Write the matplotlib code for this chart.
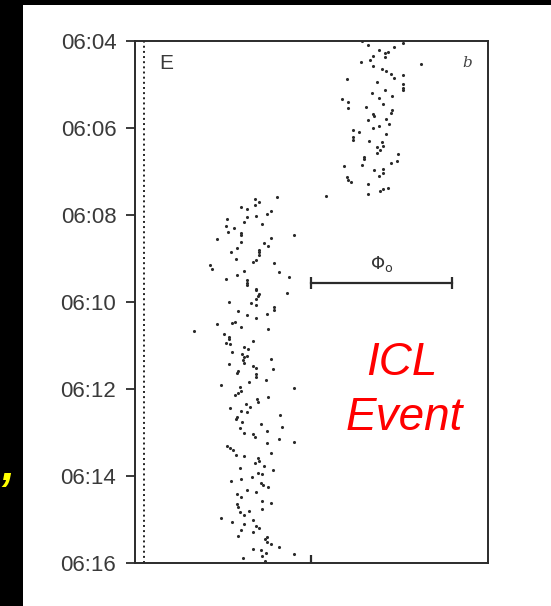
import matplotlib.pyplot as plt
from matplotlib.patches import Rectangle

# time axis: minutes after 06:00 (grows downward), x in arbitrary phase units
y_ticks = [4, 6, 8, 10, 12, 14, 16]
y_labels = ['06:04', '06:06', '06:08', '06:10', '06:12', '06:14', '06:16']

# pulses before the event (upper band)
upper_x = [227, 233, 244, 250, 253, 259, 268, 238, 250, 235,
           226, 286, 238, 247, 251, 256, 259, 268, 212, 242,
           268, 268, 268, 250, 237, 244, 257, 207, 213, 248,
           231, 213, 257, 238, 239, 256, 251, 233,
           254, 238, 244, 218, 224, 218, 218, 251, 234, 247,
           248, 242, 245, 242, 263, 229, 229, 262, 256, 209,
           227, 239, 248, 248, 244, 212, 213, 216, 233, 253,
           248, 245, 233, 191]
upper_y = [4.00, 4.09, 4.21, 4.28, 4.25, 4.14, 4.04, 4.34, 4.36, 4.44,
           4.48, 4.54, 4.58, 4.64, 4.68, 4.75, 4.85, 4.79, 4.88, 4.94,
           4.98, 5.07, 5.13, 5.13, 5.20, 5.30, 5.26, 5.33, 5.40, 5.44,
           5.51, 5.54, 5.59, 5.67, 5.72, 5.66, 5.79, 5.82,
           5.91, 5.99, 5.95, 6.05, 6.09, 6.20, 6.28, 6.14, 6.29, 6.33,
           6.41, 6.44, 6.50, 6.57, 6.60, 6.67, 6.72, 6.75, 6.80, 6.87,
           6.85, 6.97, 6.94, 7.04, 7.10, 7.12, 7.20, 7.23, 7.29, 7.37,
           7.40, 7.44, 7.52, 7.56]

# pulses after the event (lower band)
lower_x = [142, 120, 124, 120, 106, 112, 136, 132, 121, 112,
           92, 109, 127, 91, 99, 93, 106, 106, 159, 136,
           82, 106, 129, 133, 102, 96, 124, 124, 124, 101,
           121, 118, 139, 75, 77, 109, 144, 102, 154, 91,
           112, 112, 112,
           121, 121, 124, 123, 121, 152, 94, 116, 121, 139,
           139, 103, 132, 112, 121, 100, 97, 82, 106, 133,
           59, 89, 94, 94, 118, 91, 95, 109, 113, 97,
           107, 112, 109, 108, 136, 94, 109, 118, 121, 138,
           103, 102, 121,
           121, 131, 114, 86, 105, 106, 103, 100, 159, 133,
           122, 123, 111, 115, 95, 106, 112, 102, 101, 145,
           107, 126, 105, 132, 147, 109, 118, 120, 144, 159,
           132, 92, 95, 98, 136, 101, 109, 123, 124, 120,
           129, 105, 138, 123, 127, 117, 106, 96, 126, 128,
           133, 112, 121, 102, 106, 102, 103, 127, 136, 127,
           105, 109, 114, 118, 86, 97, 109, 121, 124, 106,
           118, 103, 132, 130, 132, 136, 144, 118, 126, 131,
           159, 127, 108, 130]
lower_y = [7.59, 7.63, 7.71, 7.76, 7.81, 7.86, 7.90, 7.98, 8.02, 8.04,
           8.10, 8.15, 8.21, 8.25, 8.31, 8.38, 8.41, 8.45, 8.46, 8.54,
           8.56, 8.61, 8.65, 8.71, 8.77, 8.86, 8.80, 8.86, 8.93, 9.00,
           9.03, 9.07, 9.11, 9.15, 9.24, 9.28, 9.32, 9.38, 9.42, 9.46,
           9.49, 9.56, 9.61,
           9.69, 9.72, 9.82, 9.86, 9.92, 9.79, 9.99, 10.03, 10.07, 10.12,
           10.18, 10.21, 10.28, 10.31, 10.37, 10.45, 10.49, 10.51, 10.58, 10.63,
           10.67, 10.74, 10.80, 10.85, 10.89, 10.95, 10.97, 11.03, 11.08, 11.14,
           11.20, 11.24, 11.27, 11.33, 11.32, 11.43, 11.40, 11.47, 11.52, 11.55,
           11.58, 11.64, 11.66,
           11.73, 11.79, 11.85, 11.91, 11.95, 12.04, 12.09, 12.14, 11.98, 12.19,
           12.24, 12.31, 12.34, 12.41, 12.44, 12.51, 12.54, 12.64, 12.69, 12.60,
           12.77, 12.80, 12.90, 12.96, 12.87, 13.00, 13.04, 13.10, 13.16, 13.22,
           13.25, 13.30, 13.36, 13.41, 13.46, 13.52, 13.54, 13.59, 13.65, 13.69,
           13.76, 13.81, 13.86, 13.92, 13.96, 14.02, 14.07, 14.11, 14.17, 14.21,
           14.26, 14.32, 14.37, 14.42, 14.48, 14.65, 14.71, 14.57, 14.63, 14.77,
           14.83, 14.90, 14.80, 15.00, 14.97, 15.05, 15.11, 15.15, 15.20, 15.24,
           15.29, 15.38, 15.40, 15.45, 15.52, 15.56, 15.63, 15.67, 15.70, 15.76,
           15.80, 15.84, 15.89, 15.95]

marker_x = 9          # dotted reference line
phi0_start, phi0_end, phi0_y = 176, 317, 9.56

plt.rcParams['font.family'] = ['Liberation Sans', 'DejaVu Sans']

fig = plt.figure(figsize=(5.51, 6.06), dpi=100, facecolor='black')
fig.patches.append(Rectangle((23 / 551, 0), 1, 1 - 5 / 606, transform=fig.transFigure,
                             facecolor='white', edgecolor='none', zorder=-5))

ax = fig.add_axes([135 / 551, 1 - 563 / 606, 353 / 551, 522 / 606])
ax.set_zorder(2)
ax.set_facecolor('white')
ink = '#2b2b2b'

ax.scatter(upper_x, upper_y, s=5, color='#2a2a2a', linewidths=0)
ax.scatter(lower_x, lower_y, s=5, color='#2a2a2a', linewidths=0)
ax.axvline(marker_x, color='#222222', linestyle=':', linewidth=1.4)

ax.plot([phi0_start, phi0_end], [phi0_y, phi0_y], color=ink, linewidth=1.6,
        marker='|', markersize=9, markeredgewidth=1.6)
ax.text((phi0_start + phi0_end) / 2, phi0_y - 0.2, r'$\Phi_\mathrm{o}$', ha='center', va='bottom',
        fontsize=13, color='#333333')

ax.set_xlim(0, 353)
ax.set_ylim(16, 4)
ax.set_yticks(y_ticks)
ax.set_yticklabels(y_labels)
ax.set_xticks([176])
ax.set_xticklabels([])
ax.tick_params(axis='y', direction='out', length=6.5, width=1.3, colors=ink,
               labelsize=16, pad=7, labelcolor='#3a3a3a')
ax.tick_params(axis='x', direction='in', length=6, width=1.6, colors=ink)
for side in ax.spines.values():
    side.set_color(ink)
    side.set_linewidth(1.4)

ax.text(0.088, 0.956, 'E', transform=ax.transAxes, ha='center', va='center',
        fontsize=15, color='#3a3a3a')
ax.text(0.94, 0.958, 'b', transform=ax.transAxes, ha='center', va='center',
        fontsize=11, color='#444444', style='italic', family='DejaVu Serif')

ax.text(0.756, 0.383, 'ICL', transform=ax.transAxes, ha='center', va='center',
        fontsize=33, color='red', style='italic')
ax.text(0.762, 0.278, 'Event', transform=ax.transAxes, ha='center', va='center',
        fontsize=33, color='red', style='italic')

fig.text(0.002, 0.228, ',', color='yellow', fontsize=34, fontweight='bold',
         style='italic', ha='left', va='center')

fig.savefig('out.png', dpi=100, facecolor=fig.get_facecolor())
